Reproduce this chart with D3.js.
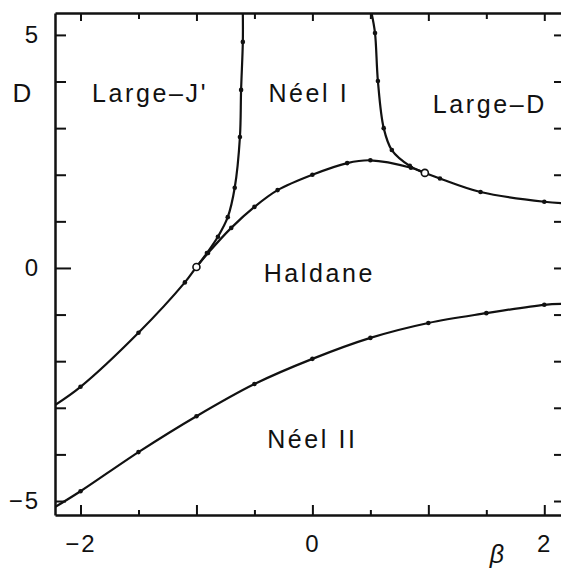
<!DOCTYPE html>
<html>
<head>
<meta charset="utf-8">
<script src="https://cdn.jsdelivr.net/npm/d3@7"></script>
<style>
body { margin: 0; background: #fff; }
.chart text { font-family: "Liberation Sans", Arial, Helvetica, sans-serif; fill: #111; }
</style>
</head>
<body>
<div class="chart"></div>
<script>
// phase boundaries, as (beta, D) pairs
// upper edge of the Haldane phase
const haldaneBeta = [-2.22, -2.0, -1.5, -1.1, -1.0, -0.9, -0.7, -0.5, -0.3, 0.0, 0.3, 0.5, 0.85, 0.97, 1.1, 1.45, 2.0, 2.17];
const haldaneD    = [-2.94, -2.55, -1.39, -0.31, 0.02, 0.32, 0.86, 1.31, 1.67, 2.0, 2.25, 2.31, 2.15, 2.04, 1.92, 1.63, 1.42, 1.39];

// Large-J' / Neel I boundary
const jPrimeBeta = [-0.60, -0.60, -0.615, -0.625, -0.67, -0.73, -0.815, -0.91, -1.0];
const jPrimeD    = [5.47, 4.85, 3.82, 2.81, 1.72, 1.09, 0.67, 0.32, 0.02];

// Neel I / Large-D boundary
const largeDBeta = [0.51, 0.54, 0.565, 0.615, 0.685, 0.84, 0.97];
const largeDD    = [5.47, 5.04, 4.01, 3.0, 2.53, 2.19, 2.04];

// Haldane / Neel II boundary
const neelIIBeta = [-2.22, -2.0, -1.5, -1.0, -0.5, 0.0, 0.5, 1.0, 1.5, 2.0, 2.17];
const neelIID    = [-5.13, -4.79, -3.95, -3.18, -2.49, -1.95, -1.50, -1.18, -0.97, -0.79, -0.77];

// points where boundaries meet
const jointBeta = [-1.0, 0.97];
const jointD    = [0.02, 2.04];

// tick labels
const xTickLabels = [-2, 0, 2];
const yTickLabels = [-5, 0, 5];

// region names and where they sit (beta, D of the text baseline centre)
const regionNames = ["Large\u2013J'", 'Néel I', 'Large\u2013D', 'Haldane', 'Néel II'];
const regionBeta  = [-1.40, -0.03, 1.53, 0.06, 0.0];
const regionD     = [3.56, 3.56, 3.33, -0.30, -3.86];

const width = 561;
const height = 569;
const frame = {left: 55, right: 564, top: 13, bottom: 515};

const svg = d3.select('.chart')
  .append('svg')
  .attr('width', width)
  .attr('height', height);

const xScale = d3.scaleLinear()
  .domain([-2.22, 2.17])
  .range([frame.left, frame.right]);

const yScale = d3.scaleLinear()
  .domain([-5.3, 5.47])
  .range([frame.bottom, frame.top]);

const halfSteps = d3.range(-2, 2.01, 0.5);
const unitSteps = d3.range(-5, 5.01, 1);

const fmt = d3.format('d');

// bottom axis, ticks point inward
const xAxis = d3.axisBottom(xScale)
  .tickValues(halfSteps)
  .tickSizeInner(-10)
  .tickSizeOuter(0)
  .tickPadding(20)
  .tickFormat(d => xTickLabels.includes(d) ? fmt(d) : '');

const xAxisG = svg.append('g')
  .attr('class', 'axis x-axis')
  .attr('transform', `translate(0, ${frame.bottom})`)
  .call(xAxis);
xAxisG.selectAll('.tick line').attr('y2', d => Number.isInteger(d) ? -10 : -5);

// left axis
const yAxis = d3.axisLeft(yScale)
  .tickValues(unitSteps)
  .tickSizeInner(-11)
  .tickSizeOuter(0)
  .tickPadding(15)
  .tickFormat(d => yTickLabels.includes(d) ? fmt(d) : '');

const yAxisG = svg.append('g')
  .attr('class', 'axis y-axis')
  .attr('transform', `translate(${frame.left}, 0)`)
  .call(yAxis);
yAxisG.selectAll('.tick line').attr('x2', d => d === 0 ? 16 : 11);

// top and right: ticks only
const topG = svg.append('g')
  .attr('class', 'axis top-axis')
  .attr('transform', `translate(0, ${frame.top})`)
  .call(d3.axisTop(xScale).tickValues(halfSteps).tickSizeInner(-8).tickSizeOuter(0).tickFormat(''));
topG.selectAll('.tick line').attr('y2', d => Number.isInteger(d) ? 8 : 6);

svg.append('g')
  .attr('class', 'axis right-axis')
  .attr('transform', `translate(${frame.right}, 0)`)
  .call(d3.axisRight(yScale).tickValues(unitSteps).tickSizeInner(-10).tickSizeOuter(0).tickFormat(''));

svg.selectAll('.axis path').attr('stroke', '#111').attr('stroke-width', 2.5);
svg.selectAll('.axis line').attr('stroke', '#111').attr('stroke-width', 2);
svg.selectAll('.axis text')
  .attr('font-size', 24)
  .attr('font-family', '"Liberation Sans", Arial, sans-serif')
  .attr('letter-spacing', 2)
  .attr('fill', '#111');

// axis titles
svg.append('text')
  .attr('x', 22)
  .attr('y', 102)
  .attr('text-anchor', 'middle')
  .attr('font-size', 26)
  .text('D');

svg.append('text')
  .attr('x', 497)
  .attr('y', 563)
  .attr('text-anchor', 'middle')
  .attr('font-size', 25)
  .attr('font-style', 'italic')
  .text('β');

// boundaries
svg.append('clipPath')
  .attr('id', 'frame-clip')
  .append('rect')
  .attr('x', frame.left)
  .attr('y', frame.top)
  .attr('width', frame.right - frame.left)
  .attr('height', frame.bottom - frame.top);

const curves = [
  d3.zip(haldaneBeta, haldaneD),
  d3.zip(jPrimeBeta, jPrimeD),
  d3.zip(largeDBeta, largeDD),
  d3.zip(neelIIBeta, neelIID)
];

const line = d3.line()
  .x(d => xScale(d[0]))
  .y(d => yScale(d[1]))
  .curve(d3.curveCatmullRom.alpha(0.5));

const plot = svg.append('g').attr('clip-path', 'url(#frame-clip)');

plot.selectAll('path.boundary')
  .data(curves)
  .enter()
  .append('path')
  .attr('class', 'boundary')
  .attr('d', line)
  .attr('fill', 'none')
  .attr('stroke', '#111')
  .attr('stroke-width', 2.2);

// computed points (skip the ends where a line runs into the frame)
const inside = d => d[0] > -2.2 && d[0] < 2.15 && d[1] < 5.4;
plot.selectAll('circle.point')
  .data(curves.flat().filter(inside))
  .enter()
  .append('circle')
  .attr('class', 'point')
  .attr('cx', d => xScale(d[0]))
  .attr('cy', d => yScale(d[1]))
  .attr('r', 2.3)
  .attr('fill', '#111');

plot.selectAll('circle.joint')
  .data(d3.zip(jointBeta, jointD))
  .enter()
  .append('circle')
  .attr('class', 'joint')
  .attr('cx', d => xScale(d[0]))
  .attr('cy', d => yScale(d[1]))
  .attr('r', 3.5)
  .attr('fill', '#fff')
  .attr('stroke', '#111')
  .attr('stroke-width', 1.6);

// phase names
svg.selectAll('text.region')
  .data(d3.zip(regionNames, regionBeta, regionD))
  .enter()
  .append('text')
  .attr('class', 'region')
  .attr('x', d => xScale(d[1]))
  .attr('y', d => yScale(d[2]))
  .attr('text-anchor', 'middle')
  .attr('font-size', 25)
  .attr('letter-spacing', 2.6)
  .text(d => d[0]);
</script>
</body>
</html>
